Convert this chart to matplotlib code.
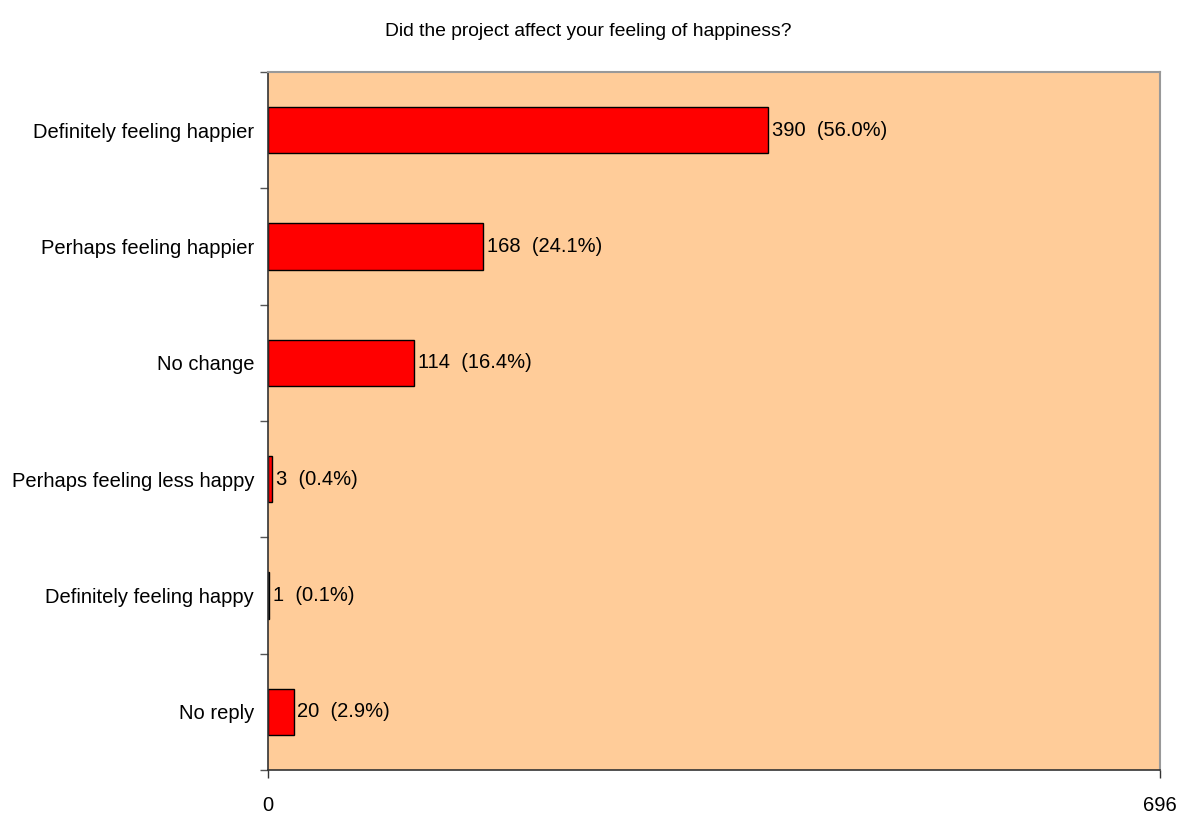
import numpy as np
import matplotlib.pyplot as plt

plt.rcParams['font.family'] = ['Liberation Sans', 'DejaVu Sans']

# survey answers, top to bottom
categories = ['Definitely feeling happier', 'Perhaps feeling happier', 'No change',
              'Perhaps feeling less happy', 'Definitely feeling happy', 'No reply']
counts = [390, 168, 114, 3, 1, 20]
total = 696
title = 'Did the project affect your feeling of happiness?'

fig = plt.figure(figsize=(11.87, 8.14), dpi=100)
ax = fig.add_axes([268/1187, 44/814, 892/1187, 698/814])
ax.set_facecolor('#FFCC99')

y = np.arange(len(categories))
ax.barh(y, counts, height=0.4, color='#FF0000', edgecolor='black', linewidth=1)

for yi, c in zip(y, counts):
    ax.text(c + 3, yi, f'{c}  ({100*c/total:.1f}%)', va='center', ha='left', fontsize=14.5)

ax.set_xlim(0, total)
ax.set_ylim(len(categories) - 0.5, -0.5)

ax.set_xticks([0, total])
ax.set_xticklabels(['0', str(total)], fontsize=14.5)
ax.tick_params(axis='x', length=6, width=1, color='#333333', pad=13)

# labels at band centres, tick marks at band edges
ax.set_yticks(y)
ax.set_yticklabels(categories, fontsize=14.5)
ax.set_yticks(np.arange(len(categories) + 1) - 0.5, minor=True)
ax.tick_params(axis='y', which='major', length=0, pad=10)
ax.tick_params(axis='y', which='minor', length=6, width=1, color='#555555')

for s in ['top', 'right']:
    ax.spines[s].set_color('#999999')
    ax.spines[s].set_linewidth(1.5)
for s in ['left', 'bottom']:
    ax.spines[s].set_color('#333333')
    ax.spines[s].set_linewidth(1.2)

fig.text(588/1187, 1 - 32/814, title, ha='center', va='center', fontsize=13.9)

fig.savefig('out.png', dpi=100)
